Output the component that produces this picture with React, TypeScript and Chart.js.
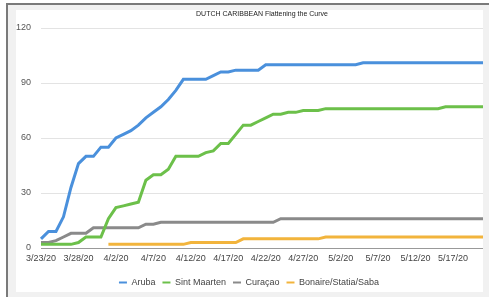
import React, { useEffect, useRef } from "react";
import { Chart, registerables } from "chart.js";

Chart.register(...registerables);

const TITLE = "DUTCH CARIBBEAN Flattening the Curve";

const DATES = [
  "3/23/20", "3/24/20", "3/25/20", "3/26/20", "3/27/20", "3/28/20", "3/29/20", "3/30/20", "3/31/20",
  "4/1/20", "4/2/20", "4/3/20", "4/4/20", "4/5/20", "4/6/20", "4/7/20", "4/8/20", "4/9/20", "4/10/20",
  "4/11/20", "4/12/20", "4/13/20", "4/14/20", "4/15/20", "4/16/20", "4/17/20", "4/18/20", "4/19/20", "4/20/20",
  "4/21/20", "4/22/20", "4/23/20", "4/24/20", "4/25/20", "4/26/20", "4/27/20", "4/28/20", "4/29/20", "4/30/20",
  "5/1/20", "5/2/20", "5/3/20", "5/4/20", "5/5/20", "5/6/20", "5/7/20", "5/8/20", "5/9/20", "5/10/20",
  "5/11/20", "5/12/20", "5/13/20", "5/14/20", "5/15/20", "5/16/20", "5/17/20", "5/18/20", "5/19/20", "5/20/20",
  "5/21/20",
];

const ARUBA = [
  5, 9, 9, 17, 33, 46, 50, 50, 55, 55,
  60, 62, 64, 67, 71, 74, 77, 81, 86, 92,
  92, 92, 92, 94, 96, 96, 97, 97, 97, 97,
  100, 100, 100, 100, 100, 100, 100, 100, 100, 100,
  100, 100, 100, 101, 101, 101, 101, 101, 101, 101,
  101, 101, 101, 101, 101, 101, 101, 101, 101, 101,
];

const SINT_MAARTEN = [
  2, 2, 2, 2, 2, 3, 6, 6, 6, 16,
  22, 23, 24, 25, 37, 40, 40, 43, 50, 50,
  50, 50, 52, 53, 57, 57, 62, 67, 67, 69,
  71, 73, 73, 74, 74, 75, 75, 75, 76, 76,
  76, 76, 76, 76, 76, 76, 76, 76, 76, 76,
  76, 76, 76, 76, 77, 77, 77, 77, 77, 77,
];

const CURACAO = [
  3, 3, 4, 6, 8, 8, 8, 11, 11, 11,
  11, 11, 11, 11, 13, 13, 14, 14, 14, 14,
  14, 14, 14, 14, 14, 14, 14, 14, 14, 14,
  14, 14, 16, 16, 16, 16, 16, 16, 16, 16,
  16, 16, 16, 16, 16, 16, 16, 16, 16, 16,
  16, 16, 16, 16, 16, 16, 16, 16, 16, 16,
];

const BES = [
  null, null, null, null, null, null, null, null, null, 2,
  2, 2, 2, 2, 2, 2, 2, 2, 2, 2,
  3, 3, 3, 3, 3, 3, 3, 5, 5, 5,
  5, 5, 5, 5, 5, 5, 5, 5, 6, 6,
  6, 6, 6, 6, 6, 6, 6, 6, 6, 6,
  6, 6, 6, 6, 6, 6, 6, 6, 6, 6,
];

const SERIES_NAMES = ["Aruba", "Sint Maarten", "Curaçao", "Bonaire/Statia/Saba"];
const SERIES_COLORS = ["#4a90dc", "#6cc04a", "#8a8a8a", "#f2b43c"];
const Y_TICKS = [0, 30, 60, 90, 120];

const FONT = "'Liberation Sans', Arial, sans-serif";

export default function App() {
  const ref = useRef<HTMLCanvasElement | null>(null);

  useEffect(() => {
    if (!ref.current) return;
    const seriesData = [ARUBA, SINT_MAARTEN, CURACAO, BES];
    const titlePlugin = {
      id: "centerTitle",
      afterDraw(chart: any) {
        const { ctx, chartArea } = chart;
        ctx.save();
        ctx.font = `7px ${FONT}`;
        ctx.fillStyle = "#222";
        ctx.textAlign = "center";
        ctx.textBaseline = "middle";
        ctx.fillText(TITLE, (chartArea.left + chartArea.right) / 2, 14);
        ctx.restore();
      },
    };
    const chart = new Chart(ref.current, {
      type: "line",
      data: {
        labels: DATES,
        datasets: seriesData.map((d, i) => ({
          label: SERIES_NAMES[i],
          data: d,
          borderColor: SERIES_COLORS[i],
          backgroundColor: SERIES_COLORS[i],
          borderWidth: 3,
          pointRadius: 0,
          tension: 0,
          fill: false,
          spanGaps: false,
        })),
      },
      options: {
        responsive: false,
        animation: false,
        layout: { padding: { left: 15, right: 6, top: 28, bottom: 0 } },
        plugins: {
          title: { display: false },
          tooltip: { enabled: false },
          legend: {
            position: "bottom",
            labels: {
              boxWidth: 8,
              boxHeight: 2,
              padding: 7,
              color: "#444",
              font: { family: FONT, size: 9 },
              generateLabels(chart: any) {
                const items = (Chart.defaults.plugins.legend.labels as any).generateLabels(chart);
                return items.map((it: any) => ({ ...it, lineWidth: 0, fillStyle: it.strokeStyle }));
              },
            },
          },
        },
        scales: {
          x: {
            type: "category",
            grid: { display: false, drawTicks: false },
            border: { display: false },
            afterFit(scale: any) {
              scale.height = 23;
            },
            ticks: {
              autoSkip: false,
              maxRotation: 0,
              minRotation: 0,
              padding: 5,
              color: "#444",
              font: { family: FONT, size: 9 },
              callback(_v: any, idx: number) {
                return idx % 5 === 0 ? DATES[idx] : null;
              },
            },
          },
          y: {
            min: 0,
            max: 120,
            afterFit(scale: any) {
              scale.width = 26;
            },
            afterBuildTicks(scale: any) {
              scale.ticks = Y_TICKS.map((v) => ({ value: v }));
            },
            border: { display: false },
            grid: {
              drawTicks: false,
              color: (c: any) => (c.tick && c.tick.value === 0 ? "#999" : "#e3e3e3"),
              lineWidth: 1,
            },
            ticks: {
              padding: 10,
              color: "#555",
              font: { family: FONT, size: 9 },
            },
          },
        },
      },
      plugins: [titlePlugin],
    } as any);
    return () => chart.destroy();
  }, []);

  return (
    <div style={{ position: "absolute", left: 0, top: 0, width: 489, height: 297, background: "#ffffff", overflow: "hidden" }}>
      <div style={{ position: "absolute", left: 6, top: 3, width: 483, height: 294, background: "#f1f1f1" }} />
      <div style={{ position: "absolute", left: 6, top: 3, width: 483, height: 2, background: "#7a7a7a" }} />
      <div style={{ position: "absolute", left: 6, top: 3, width: 2, height: 294, background: "#7a7a7a" }} />
      <div style={{ position: "absolute", left: 16, top: 10, width: 467, height: 282, background: "#ffffff" }} />
      <canvas ref={ref} width={489} height={297} style={{ position: "absolute", left: 0, top: 0, width: 489, height: 297 }} />
    </div>
  );
}
